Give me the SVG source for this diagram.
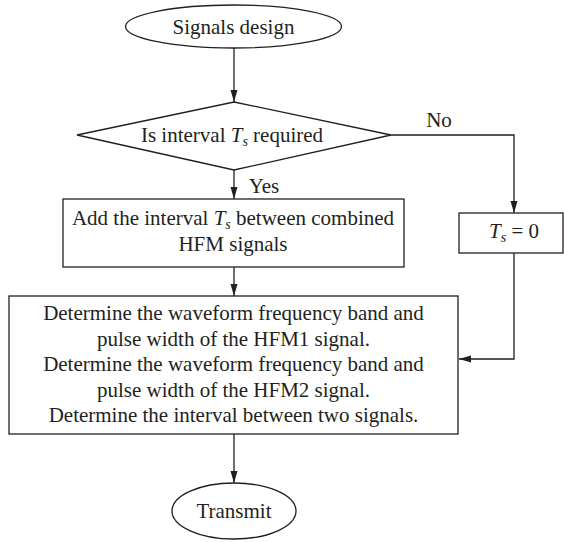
<svg xmlns="http://www.w3.org/2000/svg" width="564" height="542" viewBox="0 0 564 542">
<defs>
<marker id="ah" markerUnits="userSpaceOnUse" markerWidth="13" markerHeight="8" refX="12" refY="3.5" orient="auto">
<path d="M0,0 L12,3.5 L0,7 z" fill="#231f20"/>
</marker>
<style>
.s{fill:#fff;stroke:#231f20;stroke-width:1.3}
.c{fill:none;stroke:#231f20;stroke-width:1.3}
text{font-family:"Liberation Serif","Times New Roman",serif;font-size:21px;fill:#231f20;text-anchor:middle}
.i{font-style:italic}
.sub{font-size:14px;font-style:italic}
</style>
</defs>
<rect width="564" height="542" fill="#fff"/>
<g id="connectors">
<line class="c" x1="234" y1="48" x2="234" y2="102" marker-end="url(#ah)"/>
<line class="c" x1="234" y1="170" x2="234" y2="199" marker-end="url(#ah)"/>
<line class="c" x1="234" y1="267" x2="234" y2="296" marker-end="url(#ah)"/>
<path class="c" d="M391,135 H514 V213" marker-end="url(#ah)"/>
<path class="c" d="M514,253 V359 H459" marker-end="url(#ah)"/>
<line class="c" x1="234" y1="434" x2="234" y2="483" marker-end="url(#ah)"/>
<text x="439" y="127">No</text>
<text x="264" y="193">Yes</text>
</g>
<g id="start">
<ellipse class="s" cx="233.5" cy="26.5" rx="108" ry="21.5"/>
<text x="233.5" y="34">Signals design</text>
</g>
<g id="decision">
<polygon class="s" points="234,102 391,135 234,170 77,135"/>
<text x="232" y="142">Is interval <tspan class="i">T</tspan><tspan class="sub" dy="4">s</tspan><tspan dy="-4"> required</tspan></text>
</g>
<g id="add-interval">
<rect class="s" x="63" y="199" width="341" height="68"/>
<text x="233" y="225">Add the interval <tspan class="i">T</tspan><tspan class="sub" dy="4">s</tspan><tspan dy="-4"> between combined</tspan></text>
<text x="233" y="251">HFM signals</text>
</g>
<g id="ts-zero">
<rect class="s" x="459" y="213" width="104" height="40"/>
<text x="514" y="238"><tspan class="i">T</tspan><tspan class="sub" dy="4">s</tspan><tspan dy="-4"> = 0</tspan></text>
</g>
<g id="determine">
<rect class="s" x="9" y="296" width="449" height="138"/>
<text x="233.5" y="320">Determine the waveform frequency band and</text>
<text x="233.5" y="346">pulse width of the HFM1 signal.</text>
<text x="233.5" y="371">Determine the waveform frequency band and</text>
<text x="233.5" y="397">pulse width of the HFM2 signal.</text>
<text x="233.5" y="422">Determine the interval between two signals.</text>
</g>
<g id="transmit">
<ellipse class="s" cx="234" cy="511" rx="62" ry="28"/>
<text x="234" y="518">Transmit</text>
</g>
</svg>
